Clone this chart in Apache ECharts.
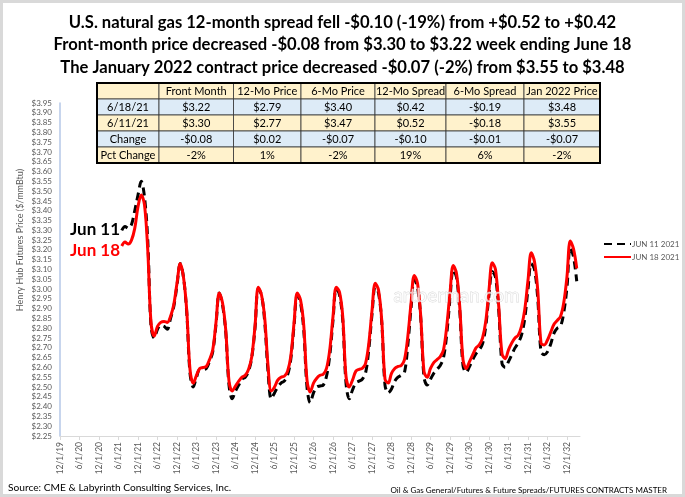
<!DOCTYPE html>
<html>
<head>
    <meta charset="utf-8">
    <script src="https://cdnjs.cloudflare.com/ajax/libs/echarts/6.0.0/echarts.min.js"></script>
    <style>
        html, body { margin: 0; padding: 0; background: #fff; }
        #chart { width: 685px; height: 497px; }
    </style>
</head>
<body>
<div id="chart"></div>
<script type="text/javascript">
    // Futures strip, monthly contracts Jul 2021 .. Mar 2033 ($/mmBtu)
    var firstContract = '7/1/21';

    var jun11 = [
        3.30, 3.32, 3.31, 3.33, 3.40, 3.48,                                  // 2021 Jul-Dec
        3.55, 3.47, 3.25, 2.81, 2.75, 2.795, 2.815, 2.81, 2.795, 2.85, 2.91, 3.02,   // 2022
        3.13, 3.06, 2.88, 2.57, 2.50, 2.55, 2.59, 2.59, 2.595, 2.63, 2.68, 2.82,     // 2023
        2.98, 2.92, 2.78, 2.51, 2.44, 2.48, 2.51, 2.54, 2.55, 2.58, 2.65, 2.80,      // 2024
        3.00, 2.97, 2.83, 2.58, 2.44, 2.47, 2.50, 2.52, 2.53, 2.56, 2.64, 2.81,      // 2025
        2.97, 2.93, 2.79, 2.50, 2.42, 2.47, 2.50, 2.505, 2.51, 2.555, 2.66, 2.84,    // 2026
        3.00, 2.97, 2.84, 2.52, 2.44, 2.485, 2.52, 2.53, 2.54, 2.57, 2.69, 2.87,     // 2027
        3.01, 2.98, 2.83, 2.51, 2.47, 2.49, 2.53, 2.55, 2.56, 2.575, 2.71, 2.90,     // 2028
        3.05, 3.01, 2.85, 2.55, 2.51, 2.54, 2.57, 2.59, 2.61, 2.65, 2.77, 2.95,      // 2029
        3.10, 3.06, 2.89, 2.61, 2.575, 2.605, 2.64, 2.67, 2.69, 2.72, 2.81, 2.97,    // 2030
        3.09, 3.06, 2.89, 2.62, 2.60, 2.63, 2.665, 2.70, 2.725, 2.765, 2.85, 3.00,   // 2031
        3.13, 3.10, 2.95, 2.68, 2.665, 2.68, 2.72, 2.775, 2.80, 2.81, 2.88, 3.01,    // 2032
        3.21, 3.165, 3.04                                                    // 2033 Jan-Mar
    ];

    var jun18 = [
        3.22, 3.24, 3.23, 3.25, 3.31, 3.42,
        3.48, 3.43, 3.20, 2.83, 2.76, 2.81, 2.83, 2.835, 2.83, 2.86, 2.92, 3.03,
        3.13, 3.06, 2.89, 2.59, 2.52, 2.56, 2.595, 2.60, 2.605, 2.64, 2.69, 2.83,
        2.98, 2.93, 2.79, 2.53, 2.48, 2.505, 2.53, 2.55, 2.56, 2.59, 2.655, 2.81,
        3.01, 2.97, 2.85, 2.61, 2.48, 2.50, 2.535, 2.55, 2.555, 2.58, 2.655, 2.825,
        2.98, 2.945, 2.815, 2.535, 2.475, 2.52, 2.545, 2.56, 2.565, 2.595, 2.69, 2.86,
        3.01, 2.985, 2.86, 2.555, 2.50, 2.535, 2.58, 2.59, 2.595, 2.62, 2.72, 2.89,
        3.03, 2.995, 2.84, 2.54, 2.52, 2.57, 2.595, 2.605, 2.61, 2.64, 2.755, 2.925,
        3.07, 3.03, 2.86, 2.58, 2.55, 2.595, 2.625, 2.64, 2.655, 2.69, 2.81, 2.98,
        3.12, 3.08, 2.91, 2.64, 2.595, 2.63, 2.665, 2.70, 2.715, 2.75, 2.835, 2.995,
        3.135, 3.10, 2.91, 2.67, 2.645, 2.69, 2.725, 2.75, 2.765, 2.81, 2.895, 3.045,
        3.185, 3.14, 2.995, 2.725, 2.715, 2.74, 2.78, 2.82, 2.84, 2.86, 2.93, 3.065,
        3.245, 3.205, 3.105
    ];

    var tableHead = ['', 'Front Month', '12-Mo Price', '6-Mo Price', '12-Mo Spread', '6-Mo Spread', 'Jan 2022 Price'];
    var tableRows = [
        ['6/18/21', '$3.22', '$2.79', '$3.40', '$0.42', '-$0.19', '$3.48'],
        ['6/11/21', '$3.30', '$2.77', '$3.47', '$0.52', '-$0.18', '$3.55'],
        ['Change', '-$0.08', '$0.02', '-$0.07', '-$0.10', '-$0.01', '-$0.07'],
        ['Pct Change', '-2%', '1%', '-2%', '19%', '6%', '-2%']
    ];

    var titleLines = [
        'U.S. natural gas 12-month spread fell -$0.10 (-19%) from +$0.52 to +$0.42',
        'Front-month price decreased -$0.08 from $3.30 to $3.22 week ending June 18',
        'The January 2022 contract price decreased -$0.07 (-2%) from $3.55 to $3.48'
    ];

    // category axis: 12/1/19 .. 4/1/33, one slot per month
    var months = [];
    for (var y = 2019, mo = 12; y < 2033 || mo <= 4; ) {
        months.push(mo + '/1/' + String(y).slice(2));
        mo++;
        if (mo > 12) { mo = 1; y++; }
    }

    var lead = months.indexOf(firstContract);
    function pad(arr) {
        var out = new Array(lead).fill(null).concat(arr);
        while (out.length < months.length) out.push(null);
        return out;
    }

    // table drawn as graphic cells
    var font = 'Lato, "Open Sans", sans-serif';
    var colEdges = [97, 159, 233.5, 301, 375, 446, 524, 600];
    var rowTop = 83, rowH = 16;
    var rowFill = ['#FFF2CC', '#DDEBF7', '#FFF2CC', '#DDEBF7', '#FFF2CC'];
    var cells = [];
    [tableHead].concat(tableRows).forEach(function (row, r) {
        row.forEach(function (txt, c) {
            var x0 = colEdges[c], x1 = colEdges[c + 1];
            cells.push({
                type: 'rect',
                shape: { x: x0, y: rowTop + r * rowH, width: x1 - x0, height: rowH },
                style: { fill: rowFill[r], stroke: '#333', lineWidth: 0.8 }
            });
            cells.push({
                type: 'text',
                x: (x0 + x1) / 2, y: rowTop + r * rowH + rowH / 2 + 0.5,
                style: { text: txt, fill: '#000', font: '11px ' + font, textAlign: 'center', textVerticalAlign: 'middle' }
            });
        });
    });
    cells.push({
        type: 'rect',
        shape: { x: colEdges[0], y: rowTop, width: colEdges[7] - colEdges[0], height: rowH * 5 },
        style: { fill: null, stroke: '#000', lineWidth: 2 }
    });

    var chart = echarts.init(document.getElementById('chart'));
    var option = {
        animation: false,
        backgroundColor: '#fff',
        title: {
            text: titleLines.join('\n'),
            left: 'center', top: 6,
            textStyle: { fontFamily: font, fontWeight: 'bold', fontSize: 16.6, lineHeight: 22.5, color: '#000' }
        },
        legend: {
            orient: 'vertical', left: 598, top: 235,
            itemWidth: 27, itemHeight: 10, itemGap: 5,
            itemStyle: { opacity: 0 },
            textStyle: { fontFamily: font, fontSize: 8, color: '#595959', padding: [0, 0, 0, -4] },
            data: ['JUN 11 2021', 'JUN 18 2021']
        },
        grid: { left: 60, right: 105, top: 103, bottom: 61 },
        xAxis: {
            type: 'category', data: months, boundaryGap: false,
            axisLine: { lineStyle: { color: '#d9d9d9', width: 1 } },
            axisTick: { interval: 5, length: 4, lineStyle: { color: '#d9d9d9' } },
            axisLabel: { interval: 5, rotate: 90, fontFamily: font, fontSize: 8.5, color: '#595959', margin: 6 },
            splitLine: { show: false }
        },
        yAxis: {
            type: 'value', min: 2.25, max: 3.95, interval: 0.05,
            axisLine: { show: true, lineStyle: { color: '#b4c7e7', width: 1.5 } },
            axisTick: { show: false },
            splitLine: { show: false },
            axisLabel: {
                fontFamily: font, fontSize: 8, color: '#595959', margin: 8,
                formatter: function (v) { return '$' + v.toFixed(2); }
            }
        },
        series: [
            {
                name: 'JUN 11 2021', type: 'line', data: pad(jun11),
                smooth: 0.35, symbol: 'none', connectNulls: false,
                lineStyle: { color: '#000', width: 3, type: [8, 5] },
                itemStyle: { color: '#000' }
            },
            {
                name: 'JUN 18 2021', type: 'line', data: pad(jun18),
                smooth: 0.35, symbol: 'none', connectNulls: false,
                lineStyle: { color: '#ff0000', width: 3 },
                itemStyle: { color: '#ff0000' }
            }
        ],
        graphic: [
            { type: 'group', children: cells },
            {
                type: 'text', x: 20, y: 240, rotation: Math.PI / 2,
                style: { text: 'Henry Hub Futures Price ($/mmBtu)', fill: '#595959', font: '9px ' + font, textAlign: 'center', textVerticalAlign: 'middle' }
            },
            {
                type: 'text', left: 70, top: 221,
                style: { text: 'Jun 11', fill: '#000', font: 'bold 17px ' + font }
            },
            {
                type: 'text', left: 70, top: 242,
                style: { text: 'Jun 18', fill: '#ff0000', font: 'bold 17px ' + font }
            },
            {
                type: 'text', left: 393, top: 286, z: 100,
                style: { text: 'artberman.com', fill: 'rgba(255,255,255,0.7)', stroke: 'rgba(190,190,190,0.6)', lineWidth: 0.8, font: '19px ' + font }
            },
            {
                type: 'text', left: 8, top: 483,
                style: { text: 'Source: CME & Labyrinth Consulting Services, Inc.', fill: '#000', font: '10.2px ' + font }
            },
            {
                type: 'text', right: 18, top: 486,
                style: { text: 'Oil & Gas General/Futures & Future Spreads/FUTURES CONTRACTS MASTER', fill: '#000', font: '8px ' + font }
            },
            {
                type: 'rect', z: 200,
                shape: { x: 0, y: 0, width: 685, height: 497 },
                style: { fill: null, stroke: '#d9d9d9', lineWidth: 6 }
            }
        ]
    };
    chart.setOption(option);
</script>
</body>
</html>
